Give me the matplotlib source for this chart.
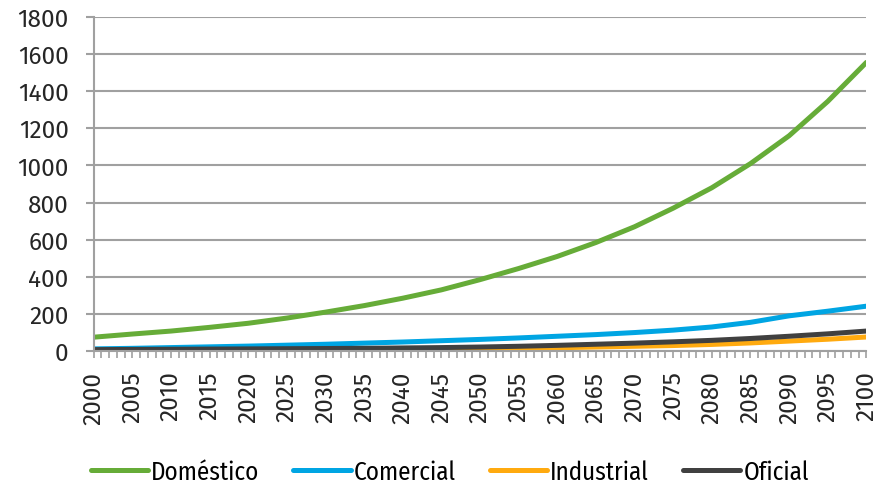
import matplotlib
matplotlib.use("Agg")
from matplotlib import pyplot as plt
from matplotlib.ticker import MultipleLocator

plt.rcParams['font.family'] = ['Fira Sans', 'DejaVu Sans']

years = list(range(2000, 2101, 5))
domestico = [75, 92, 108, 128, 150, 178, 210, 245, 285, 330, 385,
             445, 510, 585, 670, 770, 880, 1010, 1160, 1345, 1555]
comercial = [12, 15, 19, 23, 27, 32, 37, 43, 49, 56, 63,
             71, 80, 89, 100, 113, 130, 155, 190, 215, 242]
industrial = [1, 2, 3, 4, 5, 6, 7, 8, 9, 11, 13,
              15, 18, 22, 26, 30, 36, 44, 54, 64, 76]
oficial = [8, 9, 10, 11, 12, 13, 14, 15, 17, 19, 22,
           26, 31, 37, 43, 50, 58, 68, 80, 93, 108]

series = [
    ("Doméstico", domestico, "#66AC38"),
    ("Comercial", comercial, "#00A5E3"),
    ("Industrial", industrial, "#FFAA0F"),
    ("Oficial", oficial, "#404040"),
]

fig = plt.figure(figsize=(8.76, 4.85), dpi=100)
ax = fig.add_axes([0.107, 0.274, 0.882, 0.689])

for name, values, color in series:
    ax.plot(years, values, color=color, linewidth=3.6, label=name,
            solid_capstyle="round")

ax.set_xlim(2000, 2100)
ax.set_ylim(0, 1800)
ax.yaxis.set_major_locator(MultipleLocator(200))
ax.xaxis.set_major_locator(MultipleLocator(5))
ax.xaxis.set_minor_locator(MultipleLocator(1))
ax.grid(axis="y", color="#A0A0A0", linewidth=1.5)
ax.set_axisbelow(True)

for side in ("top", "right"):
    ax.spines[side].set_visible(False)
for side in ("left", "bottom"):
    ax.spines[side].set_color("#A0A0A0")
    ax.spines[side].set_linewidth(1.5)

ax.tick_params(axis="y", length=6, width=1.5, color="#A0A0A0",
               labelsize=17.5, pad=12, labelcolor="#262626")
ax.tick_params(axis="x", which="both", length=5, width=1.2, color="#A0A0A0",
               labelsize=17.5, labelrotation=90, pad=9, labelcolor="#262626")

ax.legend(loc="center", bbox_to_anchor=(0.461, -0.36), ncol=4,
          frameon=False, handlelength=2.3, handletextpad=0.12,
          columnspacing=1.35, borderaxespad=0,
          prop={"family": "Fira Sans Condensed", "size": 18})

fig.savefig("out.png", dpi=100)
